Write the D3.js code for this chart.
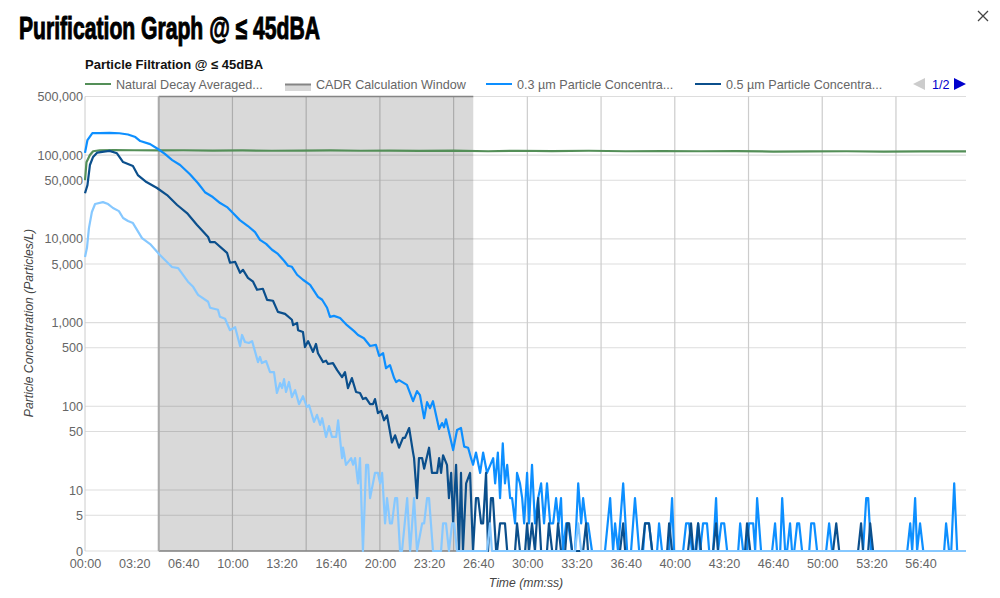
<!DOCTYPE html>
<html>
<head>
<meta charset="utf-8">
<script src="https://cdn.jsdelivr.net/npm/d3@7"></script>
<style>
  html, body { margin: 0; padding: 0; background: #fff; }
  svg { display: block; }
  text { font-family: "Liberation Sans", Arial, sans-serif; }
</style>
</head>
<body>
<svg id="chart" width="1000" height="598"></svg>
<script>
// values, time in seconds
const t03 = [0,10,30,60,100,140,175,205,225,265,297,325,355,387,427,460,488,520,550,578,602,630,663,692,712,737,761,785,810,826,842,863,887,916,948,965,985,997,1013,1038,1066,1095,1111,1135,1160,1184,1197,1213,1225,1241,1258,1266,1278,1310,1335,1351,1363,1380,1392,1404,1416,1441,1453,1461,1469,1498,1514,1530,1543,1559,1571,1579,1591,1608,1620,1636,1661,1669,1680,1689,1700,1709,1718,1730,1738,1750,1758,1770,1779,1787,1799,1807,1819,1831,1844,1856,1868,1880,1893,1905,1917,1927,1937,1945,1958,1966,1982,1994,2007,2019,2027,2039,2047,2063,2116,2137,2149,2157,2169,2190,2206,2222,2238,2255,2271,2279,2295,2308,2328,2336,2348,2377,2389,2397,2434,2446,2458,2470,2483,2495,2503,2515,2531,2540,2556,2568,2576,2589,2601,2613,2658,2666,2678,2694,2702,2719,2727,2735,2751,2796,2808,2816,2829,2837,2849,2857,2869,2877,2886,2898,2906,2918,2947,2955,2967,2979,3016,3028,3040,3166,3179,3187,3199,3346,3358,3366,3378,3386,3398,3411,3496,3504,3516,3525,3537,3549,3585];
const v03 = [106000,151000,183000,183000,184000,182000,176000,164000,147000,135000,118000,103000,87000,76000,59000,46000,36000,31500,26700,23900,20300,16700,14200,12000,9700,8700,7400,6600,5460,4760,4630,3720,3240,2820,2030,1870,1500,1170,1200,1130,930,790,710,650,525,540,400,430,285,310,217,195,205,180,115,152,136,72,112,95,115,53.5,63,56,70,30,52,55,33,32,24,20,28,16,28,16,24,12,28,8,36,12,20,8,8,4,16,12,8,4,16,4,20,4,8,12,4,12,4,4,8,4,8,0,4,4,0,0,12,4,8,4,4,0,0,8,0,4,0,12,0,0,8,0,0,4,4,0,0,4,0,0,8,0,0,4,4,0,0,4,0,4,4,0,0,8,0,4,4,0,0,4,0,0,4,4,0,8,0,0,4,0,0,8,0,0,4,0,0,4,4,0,0,4,4,0,0,4,0,0,8,8,0,0,4,0,8,0,4,0,0,4,0,0,12,0,0];

const t05 = [0,10,20,33,50,77,100,130,155,175,195,215,250,293,334,375,415,456,501,509,529,578,590,611,631,643,663,684,700,724,741,765,785,814,842,847,863,867,887,895,908,928,940,948,969,981,989,1009,1026,1046,1058,1070,1086,1103,1119,1131,1143,1160,1172,1180,1192,1205,1217,1229,1249,1262,1278,1294,1302,1319,1335,1339,1351,1359,1372,1380,1400,1412,1433,1441,1449,1457,1473,1481,1490,1498,1510,1522,1530,1538,1551,1567,1579,1591,1600,1612,1620,1632,1640,1652,1660,1673,1677,1689,1709,1718,1750,1758,1770,1791,1799,1807,1819,1831,1844,1856,1880,1888,1901,1917,1925,1937,1954,1962,1970,1982,2027,2039,2047,2177,2190,2198,2267,2279,2295,2308,2369,2377,2389,2454,2466,2475,2487,2495,2507,2556,2568,2576,2686,2694,2707,3044,3057,3069,3146,3158,3166,3187,3195,3207,3488,3496,3504,3585];
const v05 = [35000,43800,76000,95000,107000,110000,112000,105000,82500,78000,73900,57700,47600,40400,33300,25300,20300,14600,10500,9100,9100,6800,5170,5300,3930,4260,3420,3070,2460,2530,1860,1820,1340,1270,1080,930,990,810,770,510,600,445,555,430,337,350,320,328,270,223,256,165,217,148,144,122,126,106,106,122,83,88,68,78,37,45,32,42,42,55,28,24,8,24,24,18,32,16,16,24,16,26,20,8,16,4,20,0,16,0,12,16,0,8,8,4,4,16,0,8,8,0,0,4,4,0,0,4,0,0,4,0,4,0,8,0,0,4,0,0,4,0,0,4,4,0,0,4,0,0,4,0,0,4,4,0,0,4,0,0,4,0,0,4,0,0,4,0,0,4,0,0,4,0,0,4,0,0,4,0,0];

const t10 = [0,8,16,28,41,73,94,114,138,155,175,195,232,265,305,354,379,419,440,460,501,509,541,549,570,590,611,631,639,651,667,680,704,712,720,737,753,769,781,794,802,810,818,830,842,855,871,887,903,912,932,944,957,965,981,993,1005,1022,1030,1046,1050,1062,1083,1091,1099,1111,1119,1131,1144,1152,1160,1180,1192,1201,1209,1221,1229,1241,1249,1262,1270,1282,1290,1311,1323,1339,1351,1372,1380,1392,1400,1416,1449,1457,1469,1481,1494,1502,1514,1636,1648,1656,1994,2007,2019,3585];
const v10 = [6050,7800,13400,20900,26000,27400,26000,23300,21400,17700,16300,15400,10200,8650,6400,4600,4470,3070,2670,2140,1770,1500,1420,1170,1110,810,880,525,710,585,570,600,337,388,328,347,256,256,144,189,165,211,148,195,129,156,106,132,98,103,65,79,60,72,43,58,43,43,68,24,32,20,24,20,24,12,24,0,20,20,8,16,16,12,16,4,8,4,4,8,8,0,0,8,0,8,0,4,4,8,8,0,0,4,4,0,4,4,0,0,4,0,0,4,0,0];

const tDecay = [0,6,20,33,60,120,200,300,400,520,640,760,880,1000,1120,1240,1360,1500,1640,1760,1900,2050,2200,2350,2500,2650,2800,2950,3100,3250,3400,3585];
const vDecay = [50000,82000,100000,111000,114000,114500,114000,113500,114000,113000,113500,112500,113000,113500,112500,113000,112000,113000,111000,112500,111500,112500,111000,111500,111000,111500,110000,110500,111000,110000,110500,110500];

const yTicks = [500000,100000,50000,10000,5000,1000,500,100,50,10,5,0];
const xLabelTimes = d3.range(0, 3401, 200);
const xGridTimes = d3.range(300, 3585, 300);
const windowStart = 300;
const windowEnd = 1580;
const legendLabels = ["Natural Decay Averaged...","CADR Calculation Window","0.3 µm Particle Concentra...","0.5 µm Particle Concentra..."];

const GREEN = "#548f58", MID = "#0d8fff", DARK = "#0b4f8c", LIGHT = "#86c8ff";
const TEXT = "#666";

const svg = d3.select("#chart");

// log axis, zero sits on the floor of the plot
const zeroFloor = 1.87;
const x = d3.scaleLinear().domain([0, 3585]).range([85, 966]);
const yLog = d3.scaleLog().domain([zeroFloor, 500000]).range([551, 96.5]);
const y = v => yLog(Math.max(v, zeroFloor));

function mmss(s) {
  return d3.format("02d")(Math.floor(s / 60)) + ":" + d3.format("02d")(s % 60);
}

svg.append("text").attr("x", 19).attr("y", 39)
  .attr("textLength", 301).attr("lengthAdjust", "spacingAndGlyphs")
  .style("font-family", '"Liberation Sans Narrow", "Liberation Sans", sans-serif')
  .style("font-size", "31px").style("font-weight", "700")
  .style("stroke", "#000").style("stroke-width", "1px")
  .text("Purification Graph @ ≤ 45dBA");

svg.append("text").attr("x", 85).attr("y", 69)
  .style("font-size", "13px").style("font-weight", "700").attr("fill", "#111")
  .text("Particle Filtration @ ≤ 45dBA");

// close button
svg.append("path").attr("d", "M978 11L988 21M988 11L978 21")
  .attr("stroke", "#444").attr("stroke-width", 1.3).attr("fill", "none");

// grid
svg.append("g").selectAll("line").data(yTicks).join("line")
  .attr("x1", 85).attr("x2", 966)
  .attr("y1", d => y(d)).attr("y2", d => y(d))
  .attr("stroke", "#ddd").attr("stroke-width", 1.2);
svg.append("g").selectAll("line").data(xGridTimes).join("line")
  .attr("x1", d => x(d)).attr("x2", d => x(d))
  .attr("y1", y(500000)).attr("y2", y(0))
  .attr("stroke", "#ccc").attr("stroke-width", 1.2);
svg.append("line").attr("x1", 85).attr("x2", 85)
  .attr("y1", y(500000)).attr("y2", y(0)).attr("stroke", "#ccc");

// CADR window
svg.append("rect")
  .attr("x", x(windowStart)).attr("width", x(windowEnd) - x(windowStart))
  .attr("y", y(500000)).attr("height", y(0) - y(500000))
  .attr("fill", "rgba(0,0,0,0.15)");
[500000, 0].forEach(d => {
  svg.append("line").attr("x1", x(windowStart)).attr("x2", x(windowEnd))
    .attr("y1", y(d)).attr("y2", y(d))
    .attr("stroke", "#858585").attr("stroke-width", 1.6);
});
svg.append("line").attr("x1", x(windowStart)).attr("x2", x(windowStart))
  .attr("y1", y(500000)).attr("y2", y(0))
  .attr("stroke", "#aaa").attr("stroke-width", 2);

// axes
const yAxis = d3.axisLeft(yLog)
  .tickValues(yTicks.map(d => Math.max(d, zeroFloor)))
  .tickFormat(d => d === zeroFloor ? "0" : d3.format(",")(d))
  .tickSize(0).tickPadding(2);
const gy = svg.append("g").attr("transform", "translate(85,0)").call(yAxis);
gy.select(".domain").remove();
gy.selectAll("text").style("font-size", "12.6px").style("font-family", '"Liberation Sans", Arial, sans-serif').attr("fill", TEXT);

const xAxis = d3.axisBottom(x).tickValues(xLabelTimes).tickFormat(mmss).tickSize(0).tickPadding(8);
const gx = svg.append("g").attr("transform", "translate(0,551)").call(xAxis);
gx.select(".domain").remove();
gx.selectAll("text").style("font-size", "12.6px").style("font-family", '"Liberation Sans", Arial, sans-serif').attr("fill", TEXT);

svg.append("text").attr("x", 526).attr("y", 587).attr("text-anchor", "middle")
  .style("font-size", "12.2px").style("font-style", "italic").attr("fill", "#444")
  .text("Time (mm:ss)");
svg.append("text").attr("transform", "translate(33,323) rotate(-90)").attr("text-anchor", "middle")
  .style("font-size", "12.2px").style("font-style", "italic").attr("fill", "#444")
  .text("Particle Concentration (Particles/L)");

// lines
const line = d3.line().x(d => x(d[0])).y(d => y(d[1]));
function drawSeries(times, values, color, w) {
  svg.append("path")
    .attr("d", line(d3.zip(times, values)))
    .attr("fill", "none").attr("stroke", color).attr("stroke-width", w)
    .attr("stroke-linejoin", "round");
}
drawSeries(tDecay, vDecay, GREEN, 2.2);
drawSeries(t03, v03, MID, 2.2);
drawSeries(t05, v05, DARK, 2.2);
drawSeries(t10, v10, LIGHT, 2.2);

// legend
const legendX = [85, 285, 486, 695];
const legendColors = [GREEN, null, MID, DARK];
legendLabels.forEach((label, i) => {
  const lx = legendX[i];
  if (legendColors[i]) {
    svg.append("line").attr("x1", lx).attr("x2", lx + 26).attr("y1", 84).attr("y2", 84)
      .attr("stroke", legendColors[i]).attr("stroke-width", 2);
  } else {
    svg.append("rect").attr("x", lx).attr("y", 84).attr("width", 26).attr("height", 7)
      .attr("fill", "#d8d8d8");
    svg.append("line").attr("x1", lx).attr("x2", lx + 26).attr("y1", 84.5).attr("y2", 84.5)
      .attr("stroke", "#858585").attr("stroke-width", 2);
  }
  svg.append("text").attr("x", lx + 31).attr("y", 89)
    .style("font-size", "12.6px").attr("fill", TEXT).text(label);
});

// legend paging
svg.append("path").attr("d", "M925 78L925 90L913 84Z").attr("fill", "#ccc");
svg.append("text").attr("x", 932).attr("y", 89).style("font-size", "12.6px").attr("fill", "#0000cc").text("1/2");
svg.append("path").attr("d", "M954 78L954 90L966 84Z").attr("fill", "#0000cc");
</script>
</body>
</html>
